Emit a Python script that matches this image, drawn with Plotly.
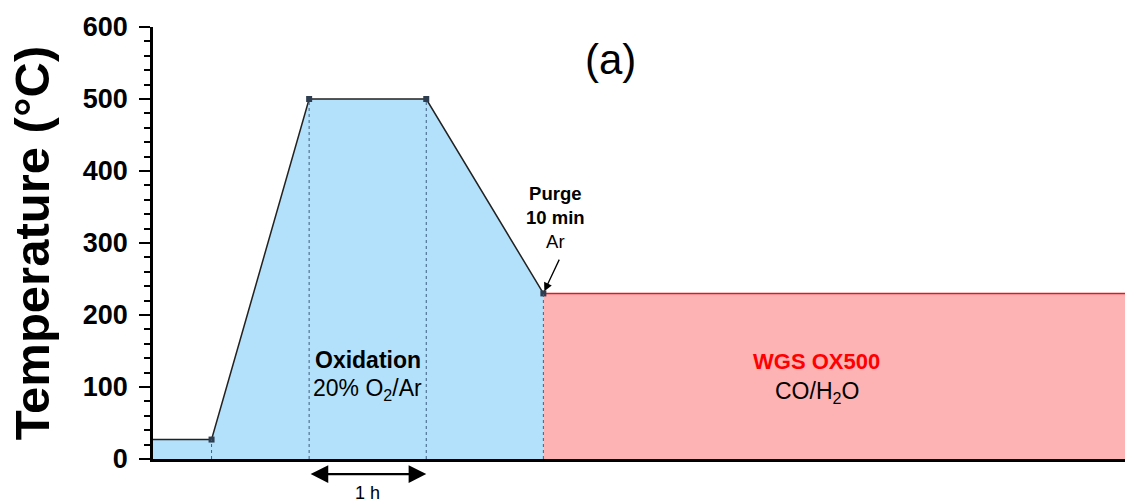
import plotly.graph_objects as go

# Temperature programme (time in minutes, temperature in °C)
oxid_time = [0, 30, 80, 140, 200]
oxid_temp = [27, 27, 500, 500, 230]
wgs_time = [200, 498]
wgs_temp = [230, 230]

# Points marked on the profile and guide lines dropped to the time axis
marker_time = [30, 80, 140, 200]
marker_temp = [27, 500, 500, 230]

y_ticks = [0, 100, 200, 300, 400, 500, 600]

FONT = "Arial, Liberation Sans, sans-serif"

fig = go.Figure()

# Oxidation step (blue area under the ramp)
fig.add_trace(go.Scatter(
    x=oxid_time, y=oxid_temp, mode="lines", fill="tozeroy",
    fillcolor="#b3e1fb", line=dict(color="#222222", width=1.5),
    hoverinfo="skip"))

# WGS step (red area)
fig.add_trace(go.Scatter(
    x=wgs_time, y=wgs_temp, mode="lines", fill="tozeroy",
    fillcolor="#fdb2b4", line=dict(color="#e8161c", width=1.5),
    hoverinfo="skip"))

# Dotted guide lines
for t, T in zip(marker_time, marker_temp):
    fig.add_shape(type="line", x0=t, x1=t, y0=0, y1=T, xref="x", yref="y",
                  line=dict(color="#3e5f80", width=1, dash="dot"), layer="above")

# Square markers at the break points
fig.add_trace(go.Scatter(
    x=marker_time, y=marker_temp, mode="markers",
    marker=dict(symbol="square", size=6, color="#2e3d4f"),
    hoverinfo="skip"))

annotations = [
    dict(text="(a)", x=0.471, y=0.924, xref="paper", yref="paper",
         xanchor="center", yanchor="middle",
         showarrow=False, font=dict(family=FONT, size=42, color="black")),
    dict(text="<b>Oxidation</b>", x=110, y=137, xref="x", yref="y",
         showarrow=False, font=dict(family=FONT, size=23, color="black")),
    dict(text="20% O<sub>2</sub>/Ar", x=110, y=97, xref="x", yref="y",
         showarrow=False, font=dict(family=FONT, size=23, color="black")),
    dict(text="<b>WGS OX500</b>", x=340, y=135, xref="x", yref="y",
         showarrow=False, font=dict(family=FONT, size=22, color="#ff0000")),
    dict(text="CO/H<sub>2</sub>O", x=340, y=93, xref="x", yref="y",
         showarrow=False, font=dict(family=FONT, size=23, color="black")),
    dict(text="<b>Purge</b><br><b>10 min</b><br>Ar", x=206, y=335,
         xref="x", yref="y", showarrow=False,
         font=dict(family=FONT, size=18.5, color="black")),
    # arrow pointing at the purge point
    dict(text="", x=200.5, y=233, xref="x", yref="y",
         ax=208.5, ay=279, axref="x", ayref="y",
         showarrow=True, arrowhead=2, arrowsize=1.3, arrowwidth=1.3,
         arrowcolor="black"),
    # one-hour scale bar below the axis
    dict(text="", x=140, y=-0.035, xref="x", yref="paper",
         ax=80, ay=0, axref="x", ayref="pixel",
         showarrow=True, arrowhead=2, startarrowhead=2, arrowside="end+start",
         arrowsize=1.6, startarrowsize=1.6, arrowwidth=2.2, arrowcolor="black"),
    dict(text="1 h", x=110, y=-0.078, xref="x", yref="paper",
         xanchor="center", yanchor="middle",
         showarrow=False, font=dict(family=FONT, size=18, color="black")),
]

fig.update_layout(
    width=1125, height=502,
    margin=dict(l=153, r=0, t=27, b=43),
    paper_bgcolor="white", plot_bgcolor="white",
    showlegend=False,
    annotations=annotations,
    font=dict(family=FONT, color="black"),
)

fig.update_xaxes(
    range=[0, 498], showgrid=False, zeroline=False,
    showticklabels=False, ticks="",
    showline=True, linecolor="black", linewidth=2.5,
)

fig.update_yaxes(
    range=[0, 600], tickvals=y_ticks, showgrid=False, zeroline=False,
    showline=True, linecolor="black", linewidth=2.5,
    ticks="outside", ticklen=11, tickwidth=2, tickcolor="black",
    tickfont=dict(family=FONT, size=27, color="black", weight="bold"),
    ticklabelstandoff=6,
    minor=dict(dtick=20, ticks="outside", ticklen=6, tickwidth=1.5,
               tickcolor="black", showgrid=False),
    title=dict(text="Temperature (°C)", standoff=18,
               font=dict(family=FONT, size=49, color="black", weight="bold")),
)

fig.write_html("out.html")
